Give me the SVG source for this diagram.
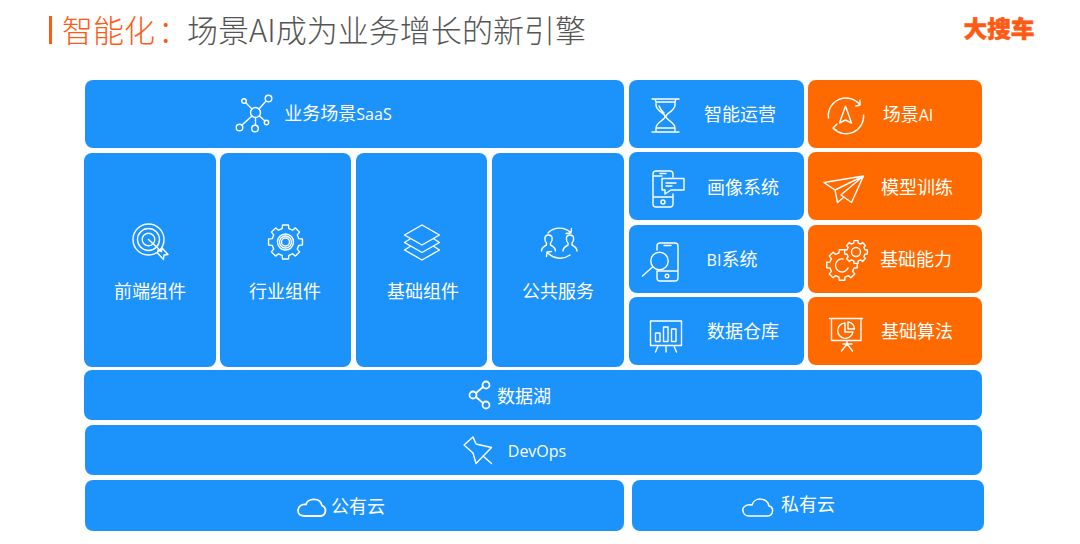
<svg xmlns="http://www.w3.org/2000/svg" width="1080" height="544" viewBox="0 0 1080 544">
<style>
.b{fill:#1c92fb}.o{fill:#ff6a00}
text{font-family:"Noto Sans CJK SC","Noto Sans",sans-serif;fill:#fff;font-size:18px;text-anchor:middle}
.l{font-family:"Open Sans","Noto Sans CJK SC",sans-serif;font-size:16px}
.i{fill:none;stroke:#fff;stroke-width:1.4;stroke-linejoin:round;stroke-linecap:round}
.t{font-size:31px;text-anchor:start;font-weight:300}
.n{vector-effect:non-scaling-stroke}
</style>
<defs>
<polygon id="gear" class="n" points="9.85,-1.74 9.85,1.74 7.76,1.94 6.86,4.12 8.19,5.74 5.74,8.19 4.12,6.86 1.94,7.76 1.74,9.85 -1.74,9.85 -1.94,7.76 -4.12,6.86 -5.74,8.19 -8.19,5.74 -6.86,4.12 -7.76,1.94 -9.85,1.74 -9.85,-1.74 -7.76,-1.94 -6.86,-4.12 -8.19,-5.74 -5.74,-8.19 -4.12,-6.86 -1.94,-7.76 -1.74,-9.85 1.74,-9.85 1.94,-7.76 4.12,-6.86 5.74,-8.19 8.19,-5.74 6.86,-4.12 7.76,-1.94"/>
<path id="user" d="M0 16c0-3 3-5 5-6v-2c-2-2-3-8 2-8s4 6 2 8v2c2 1 5 3 5 6"/>
</defs>
<rect width="1080" height="544" fill="#fff"/>
<g id="title">
<rect x="49" y="16" width="3" height="28" fill="#ff5a14"/>
<text class="t" x="62" y="42" style="fill:#ff5a14">智能化<tspan dx="3">：</tspan></text>
<text class="t" x="187" y="42" style="fill:#555" textLength="399" lengthAdjust="spacingAndGlyphs">场景AI成为业务增长的新引擎</text>
</g>
<g id="logo"><text x="999" y="37" style="fill:#ff5a14;font-size:23px;font-weight:900;stroke:#ff5a14;stroke-width:.5" textLength="71" lengthAdjust="spacingAndGlyphs">大搜车</text></g>

<g id="saas"><rect class="b" x="85" y="80" width="539" height="68" rx="8"/>
<g class="i"><circle cx="255.500" cy="112.500" r="5"/><circle cx="244" cy="101" r="2.300"/><circle cx="268.500" cy="98.500" r="3.300"/><circle cx="239.500" cy="127.500" r="3.300"/><circle cx="255" cy="128.500" r="3.300"/><circle cx="266.500" cy="122.500" r="2.200"/><path d="M246 103l6 6M259 109l7-8M252 116l-10 9M255.500 117.500v7.500M259.500 116l5.500 5"/></g>
<text x="338" y="120">业务场景<tspan class="l">SaaS</tspan></text></g>

<g id="zhineng"><rect class="b" x="629" y="80" width="175" height="68" rx="8"/>
<path class="i" d="M652 99h27M655 99l1 3h19l1-3M656 102v3c0 6 9 8 9 11.500s-9 6-9 11.500v4M675 102v3c0 6-9 8-9 11.500s9 6 9 11.500v4M652 132h27M659 106c1 3 3 5 5 7M656 128h19"/>
<text x="740" y="121">智能运营</text></g>

<g id="huaxiang"><rect class="b" x="629" y="152" width="175" height="68" rx="8"/>
<path class="i" d="M673 177v-3a3 3 0 0 0-3-3h-14a3 3 0 0 0-3 3v30a3 3 0 0 0 3 3h14a3 3 0 0 0 3-3v-10M653 176h9M653 197h20M660 173.500h6M662 178.500h22v11.500h-13l-6 4v-4h-3zM666 183h10M666 186h6"/><circle class="i" cx="663" cy="202" r="2"/>
<text x="743" y="194">画像系统</text></g>

<g id="bi"><rect class="b" x="629" y="225" width="175" height="68" rx="8"/>
<path class="i" d="M657 250v-4a3 3 0 0 1 3-3h15a3 3 0 0 1 3 3v32a3 3 0 0 1-3 3h-15a3 3 0 0 1-3-3v-7M657 271h21M664 245.500h7M642.500 276l10-9"/><circle class="i" cx="659.500" cy="261" r="8.700"/><circle class="i" cx="667" cy="276" r="1.800"/>
<text x="732" y="266"><tspan class="l">BI</tspan>系统</text></g>

<g id="shuju"><rect class="b" x="629" y="297" width="175" height="68" rx="8"/>
<path class="i" d="M650.500 321h31v24.500h-31zM655.500 333h4.500v8.500h-4.500zM663.500 327h4.500v14.500h-4.500zM671.500 329h4.500v12.500h-4.500zM658 346l-2.500 6M666 346v6M674 346l2.500 6"/>
<text x="743" y="338">数据仓库</text></g>

<g id="changjing"><rect class="o" x="808" y="80" width="174" height="68" rx="8"/>
<path class="i" d="M828.500 118A17.600 17.600 0 0 1 860 105M856 106l4-1 0-5M863.600 115A17.600 17.600 0 0 1 833 128M837 124l-4 4 4 2.500M845.500 106l-6 17 6-3 6 3z"/>
<text x="908" y="121">场景<tspan class="l">AI</tspan></text></g>

<g id="xunlian"><rect class="o" x="808" y="152" width="174" height="68" rx="8"/>
<path class="i" d="M824 182.500L863.500 176L835 190ZM863.500 176L851.500 202.500L841 195M835 190L837.500 202.500L844 197M863.500 176L842 194"/>
<text x="917" y="194">模型训练</text></g>

<g id="nengli"><rect class="o" x="808" y="225" width="174" height="68" rx="8"/>
<g class="i"><use href="#gear" transform="translate(842 265) scale(1.550)"/><use href="#gear" transform="translate(856 252) scale(1.150)" style="fill:#ff6a00"/><circle cx="856" cy="252" r="4.500"/><path d="M848 268a6.500 6.500 0 1 1-5-9"/></g>
<text x="916" y="266">基础能力</text></g>

<g id="suanfa"><rect class="o" x="808" y="297" width="174" height="68" rx="8"/>
<path class="i" d="M829.500 318.500h33M831.500 318.500v22h29.500v-22M847 341v3M847 344l-5.500 7M847 344l5.500 7M843 344h9M845 323a7.700 7.700 0 1 0 8 9h-8zM848 322v7h6.500a7 7 0 0 0-6.500-7z"/>
<text x="917" y="338">基础算法</text></g>

<g id="qianduan"><rect class="b" x="84" y="153" width="132" height="214" rx="8"/>
<g class="i"><circle cx="148.500" cy="239.500" r="15.500"/><circle cx="148.500" cy="239.500" r="11"/><circle cx="148.500" cy="239.500" r="6.300"/><path d="M148.500 239.500l13 12M158 250l3.500 1.500 0.500-3.500 6 6.500-4 0.500 -0.500 4.500-6-6.500z"/></g>
<text x="150" y="298">前端组件</text></g>

<g id="hangye"><rect class="b" x="220" y="153" width="131" height="214" rx="8"/>
<g class="i"><use href="#gear" transform="translate(285.500 242) scale(1.720)"/><circle cx="285.500" cy="242" r="8"/><circle cx="285.500" cy="242" r="6"/><circle cx="285.500" cy="242" r="4"/></g>
<text x="285" y="298">行业组件</text></g>

<g id="jichu"><rect class="b" x="356" y="153" width="131" height="214" rx="8"/>
<path class="i" d="M422 225l17.500 10-17.500 10-17.500-10zM410 239l-5.500 3.500 17.500 10 17.500-10-5.500-3.500M410 246.500l-5.500 3.500 17.500 10 17.500-10-5.500-3.500"/>
<text x="423" y="298">基础组件</text></g>

<g id="gonggong"><rect class="b" x="492" y="153" width="132" height="214" rx="8"/>
<g class="i"><path d="M548 233a16 16 0 0 1 23 0M566 233.500l5-.5 .5-4.500M547 252a17 17 0 0 0 23 3M551.500 251.500l-4.500.5-.5 4.500"/><use href="#user" x="541.500" y="235"/><use href="#user" x="563" y="235"/></g>
<text x="558" y="298">公共服务</text></g>

<g id="shujuhu"><rect class="b" x="84" y="370" width="898" height="50" rx="8"/>
<g class="i" style="stroke-width:1.800"><circle cx="473" cy="395" r="3.500"/><circle cx="486" cy="385" r="3.500"/><circle cx="486" cy="405" r="3.500"/><path d="M476 393l7-6M476 397l7 6"/></g>
<text x="524" y="403">数据湖</text></g>

<g id="devops"><rect class="b" x="85" y="425" width="897" height="50" rx="8"/>
<path class="i" d="M464 445L473 437L476 444L491.500 447.500L476 463.500L473 453ZM483 456L491.500 463.500"/>
<text class="l" x="537" y="457">DevOps</text></g>

<g id="gongyou"><rect class="b" x="85" y="480" width="539" height="51" rx="8"/>
<path class="i" style="stroke-width:1.800" d="M305 516h16a5.500 5.500 0 0 0 1-10.500c-2-9-15-7-16-1-4-1-8 2-8 6s3 5.500 7 5.500z"/>
<text x="358" y="513">公有云</text></g>

<g id="siyou"><rect class="b" x="632" y="480" width="352" height="51" rx="8"/>
<path class="i" style="stroke-width:1.500" d="M750 516h17c7 0 7-9 2-10-2-9-15-9-17-1-7-1-10 3-9 6 0 3 3 5 7 5z"/>
<text x="808" y="511">私有云</text></g>
</svg>
